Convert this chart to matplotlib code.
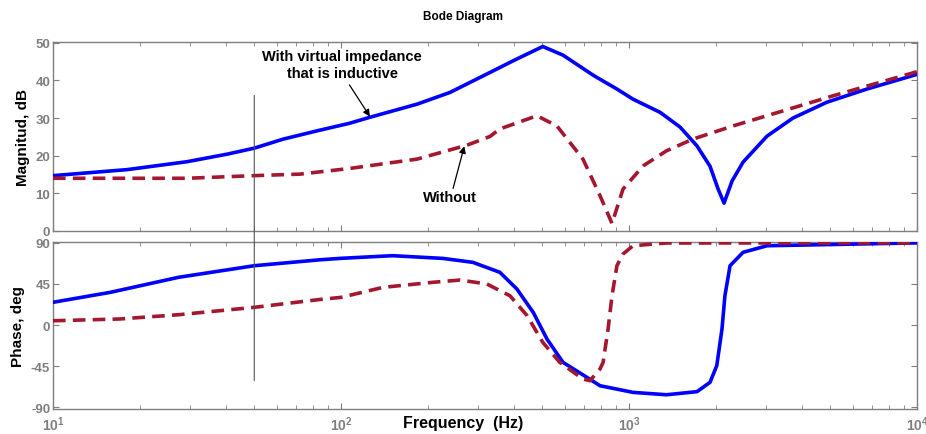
import numpy as np
import matplotlib
matplotlib.use("Agg")
import matplotlib.pyplot as plt
from matplotlib.patches import ConnectionPatch
from matplotlib.ticker import LogLocator, FixedLocator

plt.rcParams['font.family'] = ['Liberation Sans', 'DejaVu Sans']
plt.rcParams['mathtext.fontset'] = 'custom'
plt.rcParams['mathtext.rm'] = 'Liberation Sans'
plt.rcParams['mathtext.bf'] = 'Liberation Sans:bold'

# ---- data ----
f_mag_blue = [10, 18.1, 29.2, 40.2, 50, 63, 82.6, 107, 126, 184, 239, 329, 396, 502,
              590, 750, 793, 908, 1033, 1283, 1504, 1722, 1911, 2040, 2138, 2280, 2490,
              3015, 3710, 4865, 6700, 10000]
mag_blue = [14.7, 16.3, 18.4, 20.4, 22.0, 24.4, 26.6, 28.6, 30.2, 33.7, 36.8, 42.1, 45.2, 49.0,
            46.7, 41.4, 40.3, 37.7, 35.0, 31.5, 27.6, 22.6, 17.2, 11.1, 7.4, 13.3, 18.3,
            25.2, 30.0, 34.2, 37.7, 41.6]

f_mag_red = [10, 29.2, 50, 72, 107, 184, 274, 329, 356, 479, 562, 692, 793, 873, 953,
             1120, 1350, 1667, 2296, 3427, 5110, 10000]
mag_red = [14.0, 14.0, 14.7, 15.1, 16.6, 19.1, 22.8, 25.1, 27.1, 30.6, 27.9, 19.1, 9.4, 2.0, 11.1,
           17.3, 21.3, 24.4, 27.9, 31.9, 35.9, 42.3]

f_ph_blue = [10, 15.8, 27.3, 50, 84.5, 100, 151, 226, 287, 356, 408, 465, 519, 590, 714, 793,
             1033, 1350, 1722, 1911, 2017, 2103, 2153, 2243, 2490, 3015, 10000]
ph_blue = [24.9, 35.8, 52.3, 65.0, 71.5, 73.1, 76.0, 73.0, 68.7, 57.8, 39.5, 13.9, -15.3, -40.9,
           -57.3, -66.5, -73.8, -76.4, -73.0, -62.8, -44.6, -4.4, 32.1, 65.0, 79.7, 86.9, 90.0]

f_ph_red = [10, 17.0, 27.3, 50, 84.5, 100, 140, 208, 259, 321, 386, 443, 502, 575, 692, 732,
            793, 813, 846, 873, 908, 953, 1033, 1350, 10000]
ph_red = [4.7, 6.6, 11.3, 19.4, 28.0, 30.3, 41.3, 46.8, 49.3, 45.0, 32.1, 10.2, -19.0, -40.9,
          -59.2, -61.0, -48.2, -40.9, -4.4, 32.1, 65.0, 77.8, 86.9, 89.9, 90.0]

mag_yticks = [0, 10, 20, 30, 40, 50]
ph_yticks = [-90, -45, 0, 45, 90]
x_ticks = [10, 100, 1000, 10000]

BLUE = '#0000FF'
RED = '#A3172F'
GRAY = '#7F7F7F'

fig = plt.figure(figsize=(9.26, 4.35), dpi=100)
ax1 = fig.add_axes([0.0572, 0.4667, 0.9331, 0.4345])
ax2 = fig.add_axes([0.0572, 0.0575, 0.9331, 0.3839])

ax1.plot(f_mag_blue, mag_blue, color=BLUE, lw=2.6, zorder=3)
ax1.plot(f_mag_red, mag_red, color=RED, lw=2.6, ls=(0, (3.5, 2.0)), zorder=3)
ax2.plot(f_ph_blue, ph_blue, color=BLUE, lw=2.6, zorder=3)
ax2.plot(f_ph_red, ph_red, color=RED, lw=2.6, ls=(0, (3.5, 2.0)), zorder=3)

for ax in (ax1, ax2):
    ax.set_xscale('log')
    ax.set_xlim(10, 10000)
    ax.xaxis.set_major_locator(FixedLocator(x_ticks))
    ax.xaxis.set_minor_locator(LogLocator(base=10, subs=np.arange(2, 10)))
    ax.tick_params(which='both', direction='in', top=True, right=True, color=GRAY,
                   labelcolor=GRAY, labelsize=9.5)
    ax.tick_params(which='major', length=4)
    ax.tick_params(which='minor', length=3)
    for s in ax.spines.values():
        s.set_color(GRAY)
        s.set_linewidth(1.0)

ax1.set_ylim(0, 50.2)
ax1.set_yticks(mag_yticks)
ax1.set_yticklabels([str(v) for v in mag_yticks], fontweight='bold')
ax1.tick_params(axis='x', labelbottom=False)
ax1.tick_params(axis='y', pad=2)

ax2.set_ylim(-92, 91)
ax2.set_yticks(ph_yticks)
ax2.set_yticklabels([str(v) for v in ph_yticks], fontweight='bold')
ax2.set_xticklabels([r'$\mathbf{10}^{\mathbf{%d}}$' % int(np.log10(v)) for v in x_ticks],
                    fontsize=10)
ax2.tick_params(axis='y', pad=2)
ax2.tick_params(axis='x', pad=4)

ax1.set_ylabel('Magnitud, dB', fontsize=11, fontweight='bold', labelpad=4)
ax2.set_ylabel('Phase, deg', fontsize=11, fontweight='bold', labelpad=4)
fig.text(0.5, 1 - 424 / 435, 'Frequency  (Hz)', ha='center', va='center',
         fontsize=11.5, fontweight='bold')
fig.text(0.5, 0.962, 'Bode Diagram', ha='center', va='center', fontsize=8.5, fontweight='bold')

# thin vertical marker line spanning both axes
con = ConnectionPatch(xyA=(50, 36), coordsA=ax1.transData,
                      xyB=(50, -61), coordsB=ax2.transData,
                      color='#555555', lw=0.8, zorder=1)
fig.add_artist(con)

ax1.text(101, 44.3, 'With virtual impedance\nthat is inductive', ha='center', va='center',
         fontsize=10.5, fontweight='bold', linespacing=1.3)
ax1.annotate('', xy=(126, 30.4), xytext=(107, 38.8),
             arrowprops=dict(arrowstyle='-|>', color='black', lw=0.9, mutation_scale=10,
                             shrinkA=0, shrinkB=0))
ax1.text(238, 9.0, 'Without', ha='center', va='center', fontsize=10.5, fontweight='bold')
ax1.annotate('', xy=(268, 22.5), xytext=(245, 11.3),
             arrowprops=dict(arrowstyle='-|>', color='black', lw=0.9, mutation_scale=10,
                             shrinkA=0, shrinkB=0))

fig.savefig('out.png', dpi=100)
